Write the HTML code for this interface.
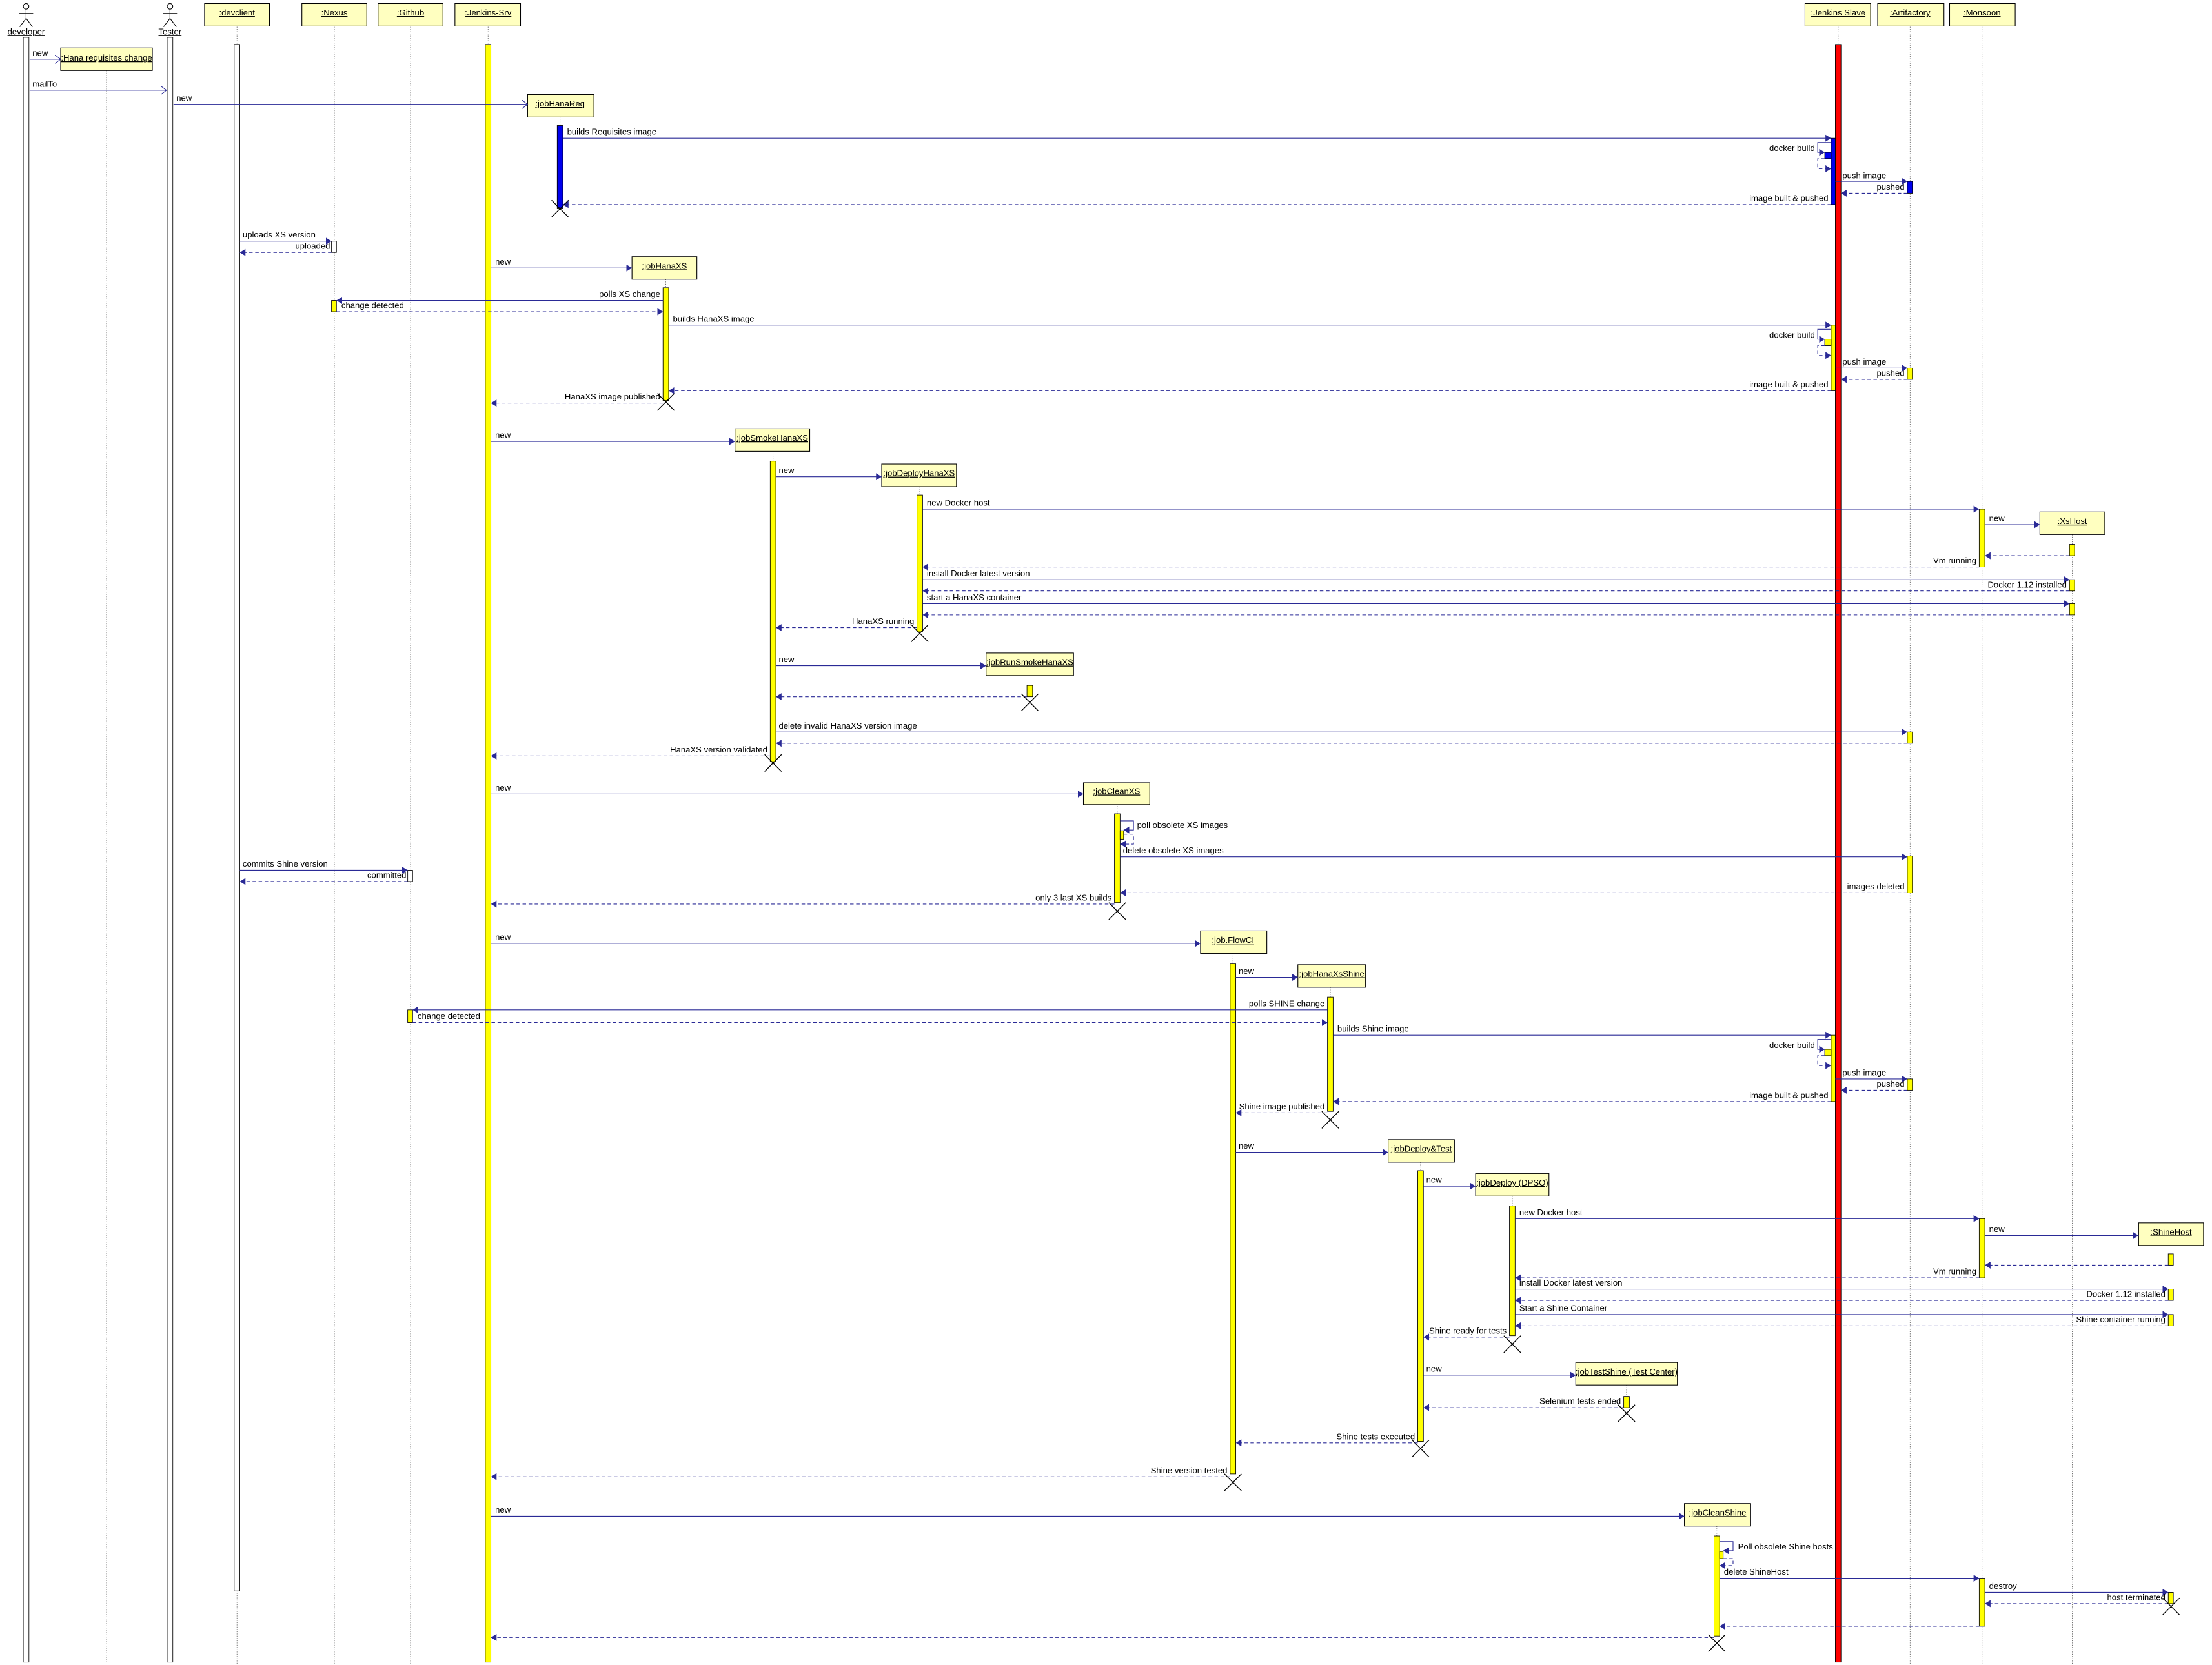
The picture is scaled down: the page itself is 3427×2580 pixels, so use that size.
<!DOCTYPE html>
<html><head><meta charset="utf-8"><style>
html,body{margin:0;padding:0;background:#fff;}
svg{display:block;}
text{font-family:"Liberation Sans",sans-serif;font-size:6px;fill:#000;}
.r{text-anchor:end;}
.c{text-anchor:middle;text-decoration:underline;}
.m{stroke:#2a2a96;stroke-width:0.5;fill:none;}
.d{stroke:#2a2a96;stroke-width:0.5;fill:none;stroke-dasharray:2.5 1.8;}
.ll{stroke:#444;stroke-width:0.35;stroke-dasharray:0.6 1;}
.bx{fill:#ffffc0;stroke:#000;stroke-width:0.5;}
.y{fill:#ffff00;stroke:#000;stroke-width:0.4;}
.w{fill:#fff;stroke:#000;stroke-width:0.4;}
.b{fill:#0000ee;stroke:#000;stroke-width:0.4;}
.x{stroke:#000;stroke-width:0.6;}
</style></head><body>
<svg width="3427" height="2580" viewBox="0 0 1568 1180.5" preserveAspectRatio="none" xmlns="http://www.w3.org/2000/svg">
<defs>
<marker id="f" markerUnits="userSpaceOnUse" markerWidth="5" markerHeight="5" refX="4" refY="2.5" orient="auto"><path d="M0,0 L4,2.5 L0,5 z" fill="#2a2a96"/></marker>
<marker id="o" markerUnits="userSpaceOnUse" markerWidth="5" markerHeight="6" refX="4" refY="3" orient="auto"><path d="M0,0 L4,3 L0,6" fill="none" stroke="#2a2a96" stroke-width="0.5"/></marker>
</defs>
<!-- lifelines -->
<g class="ll">
<line x1="75.5" y1="50" x2="75.5" y2="1180"/>
<line x1="168" y1="19" x2="168" y2="1180"/>
<line x1="237" y1="19" x2="237" y2="1180"/>
<line x1="291" y1="19" x2="291" y2="1180"/>
<line x1="346" y1="19" x2="346" y2="32"/>
<line x1="1303" y1="19" x2="1303" y2="32"/>
<line x1="1354" y1="19" x2="1354" y2="1180"/>
<line x1="1405" y1="19" x2="1405" y2="1180"/>
<line x1="1469" y1="379" x2="1469" y2="1180"/>
<line x1="397" y1="83" x2="397" y2="89"/>
<line x1="472" y1="198" x2="472" y2="204"/>
<line x1="548" y1="320" x2="548" y2="327"/>
<line x1="652" y1="345" x2="652" y2="351"/>
<line x1="730" y1="479" x2="730" y2="486"/>
<line x1="792" y1="570" x2="792" y2="577"/>
<line x1="874" y1="676" x2="874" y2="683"/>
<line x1="943" y1="700" x2="943" y2="707"/>
<line x1="1007" y1="824" x2="1007" y2="830"/>
<line x1="1072" y1="848" x2="1072" y2="855"/>
<line x1="1153" y1="982" x2="1153" y2="990"/>
<line x1="1539" y1="883" x2="1539" y2="1180"/>
<line x1="1217" y1="1082" x2="1217" y2="1089"/>
</g>
<!-- actors -->
<g stroke="#000" stroke-width="0.5" fill="#fff">
<circle cx="18.5" cy="4.5" r="2"/><line x1="18.5" y1="6.5" x2="18.5" y2="13"/><line x1="13.5" y1="9.5" x2="23.5" y2="9.5"/><path d="M14,19 L18.5,13 L23,19" fill="none"/>
<circle cx="120.5" cy="4.5" r="2"/><line x1="120.5" y1="6.5" x2="120.5" y2="13"/><line x1="115.5" y1="9.5" x2="125.5" y2="9.5"/><path d="M116,19 L120.5,13 L125,19" fill="none"/>
</g>
<text x="18.5" y="24.5" class="c">developer</text>
<text x="120.5" y="24.5" class="c">Tester</text>
<!-- header boxes -->
<rect class="bx" x="145" y="2.5" width="46" height="16"/><text x="168" y="11" class="c">:devclient</text>
<rect class="bx" x="214" y="2.5" width="46" height="16"/><text x="237" y="11" class="c">:Nexus</text>
<rect class="bx" x="268" y="2.5" width="46" height="16"/><text x="291" y="11" class="c">:Github</text>
<rect class="bx" x="322.5" y="2.5" width="46.5" height="16"/><text x="346" y="11" class="c">:Jenkins-Srv</text>
<rect class="bx" x="1279.5" y="2.5" width="46.5" height="16"/><text x="1303" y="11" class="c">:Jenkins Slave</text>
<rect class="bx" x="1331" y="2.5" width="47" height="16"/><text x="1354" y="11" class="c">:Artifactory</text>
<rect class="bx" x="1382" y="2.5" width="46.5" height="16"/><text x="1405" y="11" class="c">:Monsoon</text>
<!-- created boxes -->
<rect class="bx" x="43" y="34" width="65" height="16"/><text x="75.5" y="43" class="c">:Hana requisites change</text>
<rect class="bx" x="374" y="67" width="47" height="16"/><text x="397" y="75.5" class="c">:jobHanaReq</text>
<rect class="bx" x="448" y="182" width="46" height="16"/><text x="471" y="190.5" class="c">:jobHanaXS</text>
<rect class="bx" x="521" y="304" width="53" height="16"/><text x="547.5" y="312.5" class="c">:jobSmokeHanaXS</text>
<rect class="bx" x="625" y="329" width="53" height="16"/><text x="651.5" y="337.5" class="c">:jobDeployHanaXS</text>
<rect class="bx" x="1446" y="363" width="46" height="16"/><text x="1469" y="371.5" class="c">:XsHost</text>
<rect class="bx" x="699" y="463" width="62" height="16"/><text x="730" y="471.5" class="c">:jobRunSmokeHanaXS</text>
<rect class="bx" x="768" y="555" width="47" height="15.5"/><text x="791.5" y="563" class="c">:jobCleanXS</text>
<rect class="bx" x="851" y="660" width="47" height="16"/><text x="874" y="668.5" class="c">:job.FlowCI</text>
<rect class="bx" x="920" y="684" width="48" height="16"/><text x="944" y="692.5" class="c">:jobHanaXsShine</text>
<rect class="bx" x="984" y="808" width="47" height="16"/><text x="1007.5" y="816.5" class="c">:jobDeploy&amp;Test</text>
<rect class="bx" x="1046" y="832" width="52" height="16"/><text x="1072" y="840.5" class="c">:jobDeploy (DPSO)</text>
<rect class="bx" x="1516" y="867" width="46" height="16"/><text x="1539" y="875.5" class="c">:ShineHost</text>
<rect class="bx" x="1117" y="966" width="72" height="16"/><text x="1153" y="974.5" class="c">:jobTestShine (Test Center)</text>
<rect class="bx" x="1194" y="1066" width="47" height="16"/><text x="1217.5" y="1074.5" class="c">:jobCleanShine</text>
<!-- long activation bars -->
<rect class="w" x="16.5" y="26.5" width="4" height="1152"/>
<rect class="w" x="118.5" y="26.5" width="4" height="1152"/>
<rect class="w" x="166" y="31.5" width="4" height="1096.5"/>
<rect class="y" x="344" y="31.5" width="4" height="1147"/>
<rect x="1301" y="31.5" width="4" height="1147" fill="#ff0000" stroke="#000" stroke-width="0.4"/>
<!-- job bars -->
<rect class="b" x="395" y="89" width="4" height="59"/>
<rect class="y" x="470" y="204" width="4" height="80"/>
<rect class="y" x="546" y="327" width="4" height="213"/>
<rect class="y" x="650" y="351" width="4" height="97"/>
<rect class="y" x="728" y="486" width="4" height="8"/>
<rect class="y" x="790" y="577" width="4" height="63"/>
<rect class="y" x="794" y="589" width="2.5" height="6"/>
<rect class="y" x="872" y="683" width="4" height="362"/>
<rect class="y" x="941" y="707" width="4" height="81"/>
<rect class="y" x="1005" y="830" width="4" height="192"/>
<rect class="y" x="1070" y="855" width="4" height="92"/>
<rect class="y" x="1151" y="990" width="4" height="8"/>
<rect class="y" x="1215" y="1089" width="4" height="71"/>
<rect class="y" x="1219" y="1100" width="2.5" height="5"/>
<!-- small bars -->
<rect class="w" x="235" y="171" width="3.5" height="8"/>
<rect class="y" x="235" y="213" width="3.5" height="8"/>
<rect class="w" x="289" y="617" width="3.5" height="8"/>
<rect class="y" x="289" y="716" width="3.5" height="9"/>
<rect class="b" x="1352" y="128.6" width="3.6" height="8.4"/>
<rect class="y" x="1352" y="261" width="3.6" height="8"/>
<rect class="y" x="1352" y="519" width="3.6" height="8"/>
<rect class="y" x="1352" y="607" width="3.6" height="26"/>
<rect class="y" x="1352" y="765" width="3.6" height="8"/>
<rect class="y" x="1403" y="361" width="4" height="41"/>
<rect class="y" x="1403" y="864" width="4" height="42"/>
<rect class="y" x="1403" y="1119" width="4" height="34"/>
<rect class="y" x="1467" y="386" width="3.6" height="8"/>
<rect class="y" x="1467" y="411" width="3.6" height="8"/>
<rect class="y" x="1467" y="428" width="3.6" height="8"/>
<rect class="y" x="1537" y="889" width="3.6" height="8"/>
<rect class="y" x="1537" y="914" width="3.6" height="8"/>
<rect class="y" x="1537" y="932" width="3.6" height="8"/>
<rect class="y" x="1537" y="1129" width="3.6" height="8"/>
<!-- slave activations -->
<rect class="b" x="1298" y="98" width="3" height="47"/><rect class="b" x="1293.5" y="108" width="4.5" height="4.5"/>
<rect class="y" x="1298" y="230.5" width="3" height="46.5"/><rect class="y" x="1293.5" y="240.5" width="4.5" height="4.5"/>
<rect class="y" x="1298" y="734" width="3" height="47"/><rect class="y" x="1293.5" y="744" width="4.5" height="4.5"/>
<!-- messages -->
<line class="m" x1="21" y1="42" x2="43" y2="42" marker-end="url(#o)"/><text x="23" y="39.5">new</text>
<line class="m" x1="21" y1="64" x2="118" y2="64" marker-end="url(#o)"/><text x="23" y="61.5">mailTo</text>
<line class="m" x1="123" y1="74" x2="374" y2="74" marker-end="url(#o)"/><text x="125" y="71.5">new</text>

<g id="g1">
<line class="m" x1="399" y1="98" x2="1298" y2="98" marker-end="url(#f)"/><text x="402" y="95.5">builds Requisites image</text>
<path class="m" d="M1298,101 H1288.5 V108 H1293.5" marker-end="url(#f)"/><text x="1286.5" y="107" class="r">docker build</text>
<path class="d" d="M1293.5,112.5 H1288.5 V119.6 H1298" marker-end="url(#f)"/>
<line class="m" x1="1301" y1="128.6" x2="1352" y2="128.6" marker-end="url(#f)"/><text x="1306" y="126.5">push image</text>
<line class="d" x1="1352" y1="137" x2="1305" y2="137" marker-end="url(#f)"/><text x="1350" y="134.5" class="r">pushed</text>
<line class="d" x1="1298" y1="145" x2="399" y2="145" marker-end="url(#f)"/><text x="1296" y="142.5" class="r">image built &amp; pushed</text>
</g>
<line class="m" x1="170" y1="171" x2="235" y2="171" marker-end="url(#f)"/><text x="172" y="168.5">uploads XS version</text>
<line class="d" x1="235" y1="179" x2="170" y2="179" marker-end="url(#f)"/><text x="234" y="176.5" class="r">uploaded</text>
<line class="m" x1="348" y1="190" x2="448" y2="190" marker-end="url(#f)"/><text x="351" y="187.5">new</text>
<line class="m" x1="470" y1="213" x2="238.5" y2="213" marker-end="url(#f)"/><text x="468" y="210.5" class="r">polls XS change</text>
<line class="d" x1="238.5" y1="221" x2="470" y2="221" marker-end="url(#f)"/><text x="242" y="218.5">change detected</text>

<line class="m" x1="474" y1="230.5" x2="1298" y2="230.5" marker-end="url(#f)"/><text x="477" y="228">builds HanaXS image</text>
<path class="m" d="M1298,233.5 H1288.5 V240.5 H1293.5" marker-end="url(#f)"/><text x="1286.5" y="239.5" class="r">docker build</text>
<path class="d" d="M1293.5,245 H1288.5 V252 H1298" marker-end="url(#f)"/>
<line class="m" x1="1301" y1="261" x2="1352" y2="261" marker-end="url(#f)"/><text x="1306" y="258.5">push image</text>
<line class="d" x1="1352" y1="269" x2="1305" y2="269" marker-end="url(#f)"/><text x="1350" y="266.5" class="r">pushed</text>
<line class="d" x1="1298" y1="277" x2="474" y2="277" marker-end="url(#f)"/><text x="1296" y="274.5" class="r">image built &amp; pushed</text>
<line class="d" x1="470" y1="285.8" x2="348" y2="285.8" marker-end="url(#f)"/><text x="468" y="283.3" class="r">HanaXS image published</text>

<line class="m" x1="348" y1="313" x2="521" y2="313" marker-end="url(#f)"/><text x="351" y="310.5">new</text>
<line class="m" x1="550" y1="338" x2="625" y2="338" marker-end="url(#f)"/><text x="552" y="335.5">new</text>
<line class="m" x1="654" y1="361" x2="1403" y2="361" marker-end="url(#f)"/><text x="657" y="358.5">new Docker host</text>
<line class="m" x1="1407" y1="372" x2="1446" y2="372" marker-end="url(#f)"/><text x="1410" y="369.5">new</text>
<line class="d" x1="1467" y1="394" x2="1407" y2="394" marker-end="url(#f)"/>
<line class="d" x1="1403" y1="402" x2="654" y2="402" marker-end="url(#f)"/><text x="1401" y="399.5" class="r">Vm running</text>
<line class="m" x1="654" y1="411" x2="1467" y2="411" marker-end="url(#f)"/><text x="657" y="408.5">install Docker latest version</text>
<line class="d" x1="1467" y1="419" x2="654" y2="419" marker-end="url(#f)"/><text x="1465" y="416.5" class="r">Docker 1.12 installed</text>
<line class="m" x1="654" y1="428" x2="1467" y2="428" marker-end="url(#f)"/><text x="657" y="425.5">start a HanaXS container</text>
<line class="d" x1="1467" y1="436" x2="654" y2="436" marker-end="url(#f)"/>
<line class="d" x1="650" y1="445" x2="550" y2="445" marker-end="url(#f)"/><text x="648" y="442.5" class="r">HanaXS running</text>
<line class="m" x1="550" y1="472" x2="699" y2="472" marker-end="url(#f)"/><text x="552" y="469.5">new</text>
<line class="d" x1="728" y1="494" x2="550" y2="494" marker-end="url(#f)"/>
<line class="m" x1="550" y1="519" x2="1352" y2="519" marker-end="url(#f)"/><text x="552" y="516.5">delete invalid HanaXS version image</text>
<line class="d" x1="1352" y1="527" x2="550" y2="527" marker-end="url(#f)"/>
<line class="d" x1="546" y1="536" x2="348" y2="536" marker-end="url(#f)"/><text x="544" y="533.5" class="r">HanaXS version validated</text>

<line class="m" x1="348" y1="563" x2="768" y2="563" marker-end="url(#f)"/><text x="351" y="560.5">new</text>
<path class="m" d="M794,582 H803.5 V588.5 H796.5" marker-end="url(#f)"/><text x="806" y="587">poll obsolete XS images</text>
<path class="d" d="M796.5,591.5 H803.5 V598.5 H794" marker-end="url(#f)"/>
<line class="m" x1="794" y1="607.5" x2="1352" y2="607.5" marker-end="url(#f)"/><text x="796" y="605">delete obsolete XS images</text>
<line class="d" x1="1352" y1="633" x2="794" y2="633" marker-end="url(#f)"/><text x="1350" y="630.5" class="r">images deleted</text>
<line class="m" x1="170" y1="617" x2="289" y2="617" marker-end="url(#f)"/><text x="172" y="614.5">commits Shine version</text>
<line class="d" x1="289" y1="625" x2="170" y2="625" marker-end="url(#f)"/><text x="288" y="622.5" class="r">committed</text>
<line class="d" x1="790" y1="641" x2="348" y2="641" marker-end="url(#f)"/><text x="788" y="638.5" class="r">only 3 last XS builds</text>

<line class="m" x1="348" y1="669" x2="851" y2="669" marker-end="url(#f)"/><text x="351" y="666.5">new</text>
<line class="m" x1="876" y1="693" x2="920" y2="693" marker-end="url(#f)"/><text x="878" y="690.5">new</text>
<line class="m" x1="941" y1="716" x2="292.5" y2="716" marker-end="url(#f)"/><text x="939" y="713.5" class="r">polls SHINE change</text>
<line class="d" x1="292.5" y1="725" x2="941" y2="725" marker-end="url(#f)"/><text x="296" y="722.5">change detected</text>
<line class="m" x1="945" y1="734" x2="1298" y2="734" marker-end="url(#f)"/><text x="948" y="731.5">builds Shine image</text>
<path class="m" d="M1298,737 H1288.5 V744 H1293.5" marker-end="url(#f)"/><text x="1286.5" y="743" class="r">docker build</text>
<path class="d" d="M1293.5,748.5 H1288.5 V755.5 H1298" marker-end="url(#f)"/>
<line class="m" x1="1301" y1="765" x2="1352" y2="765" marker-end="url(#f)"/><text x="1306" y="762.5">push image</text>
<line class="d" x1="1352" y1="773" x2="1305" y2="773" marker-end="url(#f)"/><text x="1350" y="770.5" class="r">pushed</text>
<line class="d" x1="1298" y1="781" x2="945" y2="781" marker-end="url(#f)"/><text x="1296" y="778.5" class="r">image built &amp; pushed</text>
<line class="d" x1="941" y1="789" x2="876" y2="789" marker-end="url(#f)"/><text x="939" y="786.5" class="r">Shine image published</text>

<line class="m" x1="876" y1="817" x2="984" y2="817" marker-end="url(#f)"/><text x="878" y="814.5">new</text>
<line class="m" x1="1009" y1="841" x2="1046" y2="841" marker-end="url(#f)"/><text x="1011" y="838.5">new</text>
<line class="m" x1="1074" y1="864" x2="1403" y2="864" marker-end="url(#f)"/><text x="1077" y="861.5">new Docker host</text>
<line class="m" x1="1407" y1="876" x2="1516" y2="876" marker-end="url(#f)"/><text x="1410" y="873.5">new</text>
<line class="d" x1="1537" y1="897" x2="1407" y2="897" marker-end="url(#f)"/>
<line class="d" x1="1403" y1="906" x2="1074" y2="906" marker-end="url(#f)"/><text x="1401" y="903.5" class="r">Vm running</text>
<line class="m" x1="1074" y1="914" x2="1537" y2="914" marker-end="url(#f)"/><text x="1077" y="911.5">install Docker latest version</text>
<line class="d" x1="1537" y1="922" x2="1074" y2="922" marker-end="url(#f)"/><text x="1535" y="919.5" class="r">Docker 1.12 installed</text>
<line class="m" x1="1074" y1="932" x2="1537" y2="932" marker-end="url(#f)"/><text x="1077" y="929.5">Start a Shine Container</text>
<line class="d" x1="1537" y1="940" x2="1074" y2="940" marker-end="url(#f)"/><text x="1535" y="937.5" class="r">Shine container running</text>
<line class="d" x1="1070" y1="948" x2="1009" y2="948" marker-end="url(#f)"/><text x="1068" y="945.5" class="r">Shine ready for tests</text>
<line class="m" x1="1009" y1="975" x2="1117" y2="975" marker-end="url(#f)"/><text x="1011" y="972.5">new</text>
<line class="d" x1="1151" y1="998" x2="1009" y2="998" marker-end="url(#f)"/><text x="1149" y="995.5" class="r">Selenium tests ended</text>
<line class="d" x1="1005" y1="1023" x2="876" y2="1023" marker-end="url(#f)"/><text x="1003" y="1020.5" class="r">Shine tests executed</text>
<line class="d" x1="872" y1="1047" x2="348" y2="1047" marker-end="url(#f)"/><text x="870" y="1044.5" class="r">Shine version tested</text>

<line class="m" x1="348" y1="1075" x2="1194" y2="1075" marker-end="url(#f)"/><text x="351" y="1072.5">new</text>
<path class="m" d="M1219,1093 H1228.5 V1099.5 H1221.5" marker-end="url(#f)"/><text x="1232" y="1098.5">Poll obsolete Shine hosts</text>
<path class="d" d="M1221.5,1105 H1228.5 V1110 H1219" marker-end="url(#f)"/>
<line class="m" x1="1219" y1="1119" x2="1403" y2="1119" marker-end="url(#f)"/><text x="1222" y="1116.5">delete ShineHost</text>
<line class="m" x1="1407" y1="1129" x2="1537" y2="1129" marker-end="url(#f)"/><text x="1410" y="1126.5">destroy</text>
<line class="d" x1="1537" y1="1137" x2="1407" y2="1137" marker-end="url(#f)"/><text x="1535" y="1134.5" class="r">host terminated</text>
<line class="d" x1="1403" y1="1153" x2="1219" y2="1153" marker-end="url(#f)"/>
<line class="d" x1="1215" y1="1161" x2="348" y2="1161" marker-end="url(#f)"/>
<!-- destruction X -->
<g class="x">
<path d="M391,142 L403,154 M403,142 L391,154"/>
<path d="M466,279 L478,291 M478,279 L466,291"/>
<path d="M542,535 L554,547 M554,535 L542,547"/>
<path d="M646,443 L658,455 M658,443 L646,455"/>
<path d="M724,492 L736,504 M736,492 L724,504"/>
<path d="M786,640 L798,652 M798,640 L786,652"/>
<path d="M868,1045 L880,1057 M880,1045 L868,1057"/>
<path d="M937,788 L949,800 M949,788 L937,800"/>
<path d="M1001,1021 L1013,1033 M1013,1021 L1001,1033"/>
<path d="M1066,947 L1078,959 M1078,947 L1066,959"/>
<path d="M1147,996 L1159,1008 M1159,996 L1147,1008"/>
<path d="M1211,1159 L1223,1171 M1223,1159 L1211,1171"/>
<path d="M1533,1133 L1545,1145 M1545,1133 L1533,1145"/>
</g>
</svg>
</body></html>
